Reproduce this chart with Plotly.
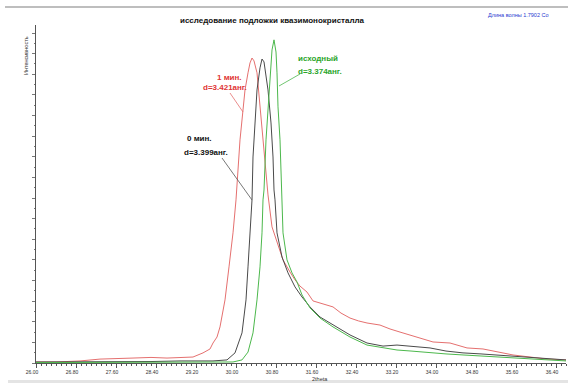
import plotly.graph_objects as go

# ---- data (2theta, intensity in counts) ----
two_theta_red = [26.00, 26.42, 26.88, 27.28, 27.94, 28.30, 28.62, 28.98, 29.14, 29.34, 29.48, 29.54,
                 29.62, 29.68, 29.78, 29.86, 29.94, 30.00, 30.04, 30.08, 30.14, 30.16, 30.18, 30.24,
                 30.28, 30.32, 30.36, 30.42, 30.48, 30.54, 30.60, 30.64, 30.72, 30.82, 30.94, 31.08,
                 31.18, 31.28, 31.42, 31.54, 31.68, 31.94, 32.10, 32.28, 32.45, 32.62, 32.88, 33.08,
                 33.28, 33.62, 33.94, 34.28, 34.62, 34.94, 35.24, 35.54, 35.88, 36.22, 36.60]
int_red = [5, 5, 10, 19, 24, 27, 24, 29, 29, 49, 68, 97,
           126, 175, 306, 466, 631, 791, 922, 1082, 1227, 1285, 1324, 1407,
           1455, 1479, 1465, 1407, 1242, 1082, 922, 815, 660, 582, 500, 441,
           403, 373, 344, 301, 291, 272, 242, 218, 204, 194, 184, 165,
           150, 126, 102, 97, 73, 68, 53, 39, 29, 19, 15]

two_theta_black = [26.00, 26.60, 27.28, 27.90, 28.28, 28.88, 29.28, 29.54, 29.82, 29.98, 30.12, 30.20,
                   30.24, 30.28, 30.32, 30.34, 30.38, 30.42, 30.48, 30.52, 30.56, 30.60, 30.64, 30.70,
                   30.74, 30.76, 30.78, 30.82, 30.92, 31.04, 31.18, 31.32, 31.48, 31.68, 31.94, 32.10,
                   32.28, 32.62, 32.94, 33.22, 33.50, 33.88, 34.20, 34.54, 34.90, 35.22, 35.55, 35.88,
                   36.20, 36.60]
int_black = [5, 5, 5, 7, 7, 10, 10, 10, 15, 49, 146, 306,
             466, 631, 791, 999, 1164, 1324, 1431, 1474, 1460, 1397, 1324, 1164,
             999, 839, 791, 631, 514, 437, 369, 320, 272, 223, 184, 160,
             136, 97, 82, 87, 80, 73, 58, 49, 44, 39, 34, 29,
             24, 15]

two_theta_green = [26.00, 26.70, 27.28, 28.00, 28.28, 28.80, 29.28, 29.68, 29.94, 30.12, 30.24, 30.34,
                   30.42, 30.48, 30.52, 30.54, 30.56, 30.60, 30.64, 30.68, 30.72, 30.76, 30.80, 30.82,
                   30.84, 30.88, 30.92, 30.94, 31.02, 31.12, 31.22, 31.32, 31.48, 31.68, 31.94, 32.10,
                   32.28, 32.62, 32.94, 33.22, 33.50, 33.88, 34.20, 34.54, 34.90, 35.22, 35.55, 35.88,
                   36.20, 36.60]
int_green = [2, 2, 3, 5, 5, 5, 5, 5, 5, 15, 53, 146,
             306, 466, 631, 791, 839, 1082, 1242, 1407, 1518, 1567, 1508, 1407,
             1242, 1082, 839, 631, 500, 437, 393, 330, 267, 218, 175, 150,
             126, 87, 73, 63, 58, 49, 44, 39, 34, 29, 24, 19,
             15, 10]

x_ticks = [26.00, 26.80, 27.60, 28.40, 29.20, 30.00, 30.80, 31.60, 32.40, 33.20, 34.00, 34.80, 35.60, 36.40]

title = "исследование подложки квазимонокристалла"
wave_note = "Длина волны 1.7902 Co"

# plot geometry (pixels)
W, H = 568, 383
L, R, T, B = 36, 2, 25, 20
XMIN, XMAX = 26.0, 36.6
YMAX = 1639
PW, PH = W - L - R, H - T - B

def px_to_data(px, py):
    return XMIN + (px - L) / PW * (XMAX - XMIN), (H - B - py) / PH * YMAX

def px_to_paper(px, py):
    return (px - L) / PW, (H - B - py) / PH

fig = go.Figure()
fig.add_trace(go.Scatter(x=two_theta_red, y=int_red, mode="lines",
                         line=dict(color="#e5706f", width=1), name="1 мин."))
fig.add_trace(go.Scatter(x=two_theta_black, y=int_black, mode="lines",
                         line=dict(color="#4a4a4a", width=1), name="0 мин."))
fig.add_trace(go.Scatter(x=two_theta_green, y=int_green, mode="lines",
                         line=dict(color="#4cb84c", width=1), name="исходный"))

ann = []
def text_at(px, py, txt, color, size=8, bold=True, anchor="center", angle=0):
    x, y = px_to_paper(px, py)
    ann.append(dict(x=x, y=y, xref="paper", yref="paper", text=f"<b>{txt}</b>" if bold else txt,
                    showarrow=False, xanchor=anchor, yanchor="middle", textangle=angle,
                    font=dict(family="Arial", size=size, color=color)))

text_at(318, 59, "исходный", "#2aa52a")
text_at(320, 71, "d=3.374анг.", "#2aa52a")
text_at(229, 77, "1 мин.", "#e03434")
text_at(225, 88, "d=3.421анг.", "#e03434")
text_at(199, 138, "0 мин.", "#111111")
text_at(206, 152, "d=3.399анг.", "#111111")
text_at(272, 21, title, "#111111", size=8)
text_at(551, 15, wave_note, "#2a3ad0", size=5.5, bold=False, anchor="right")
text_at(26, 56, "Интенсивность", "#333333", size=5.5, bold=False, angle=-90)
text_at(320, 379, "2theta", "#333333", size=5.5, bold=False)

shapes = []
def seg(p0, p1, color):
    x0, y0 = px_to_data(*p0)
    x1, y1 = px_to_data(*p1)
    shapes.append(dict(type="line", xref="x", yref="y", x0=x0, y0=y0, x1=x1, y1=y1,
                       line=dict(color=color, width=0.8)))

seg((230, 93), (243, 112), "#e5706f")
seg((222, 158), (252, 200), "#555555")
seg((279, 86), (300, 74), "#4cb84c")

# top separator line and bottom band
lx0, ly = px_to_paper(5, 7)
shapes.append(dict(type="line", xref="paper", yref="paper", x0=lx0, x1=1.01, y0=ly, y1=ly,
                   line=dict(color="#a8a8a8", width=1.5)))
bx0, by0 = px_to_paper(8, 380)
_, by1 = px_to_paper(8, 384)
shapes.append(dict(type="rect", xref="paper", yref="paper", x0=bx0, x1=1.01, y0=by0, y1=by1,
                   fillcolor="#e4e4e4", line=dict(width=0)))

fig.update_layout(
    width=W, height=H,
    margin=dict(l=L, r=R, t=T, b=B, pad=0),
    paper_bgcolor="white", plot_bgcolor="white",
    showlegend=False,
    annotations=ann, shapes=shapes,
)
fig.update_xaxes(range=[XMIN, XMAX], tickvals=x_ticks, ticktext=[f"{v:.2f}" for v in x_ticks],
                 showgrid=False, zeroline=False, showline=True, linecolor="#555555", linewidth=1,
                 ticks="outside", ticklen=4, tickcolor="#555555", ticklabelshift=-4,
                 tickfont=dict(family="Arial", size=5, color="#333333"),
                 minor=dict(dtick=0.1, tick0=26.0, ticks="outside", ticklen=2, tickcolor="#555555", showgrid=False))
fig.update_yaxes(range=[0, YMAX], dtick=100, tick0=0, showticklabels=False,
                 showgrid=False, zeroline=False, showline=True, linecolor="#555555", linewidth=1,
                 ticks="outside", ticklen=3, tickcolor="#777777",
                 minor=dict(dtick=50, ticks="outside", ticklen=1.5, tickcolor="#777777", showgrid=False))

fig.write_html("out.html")
